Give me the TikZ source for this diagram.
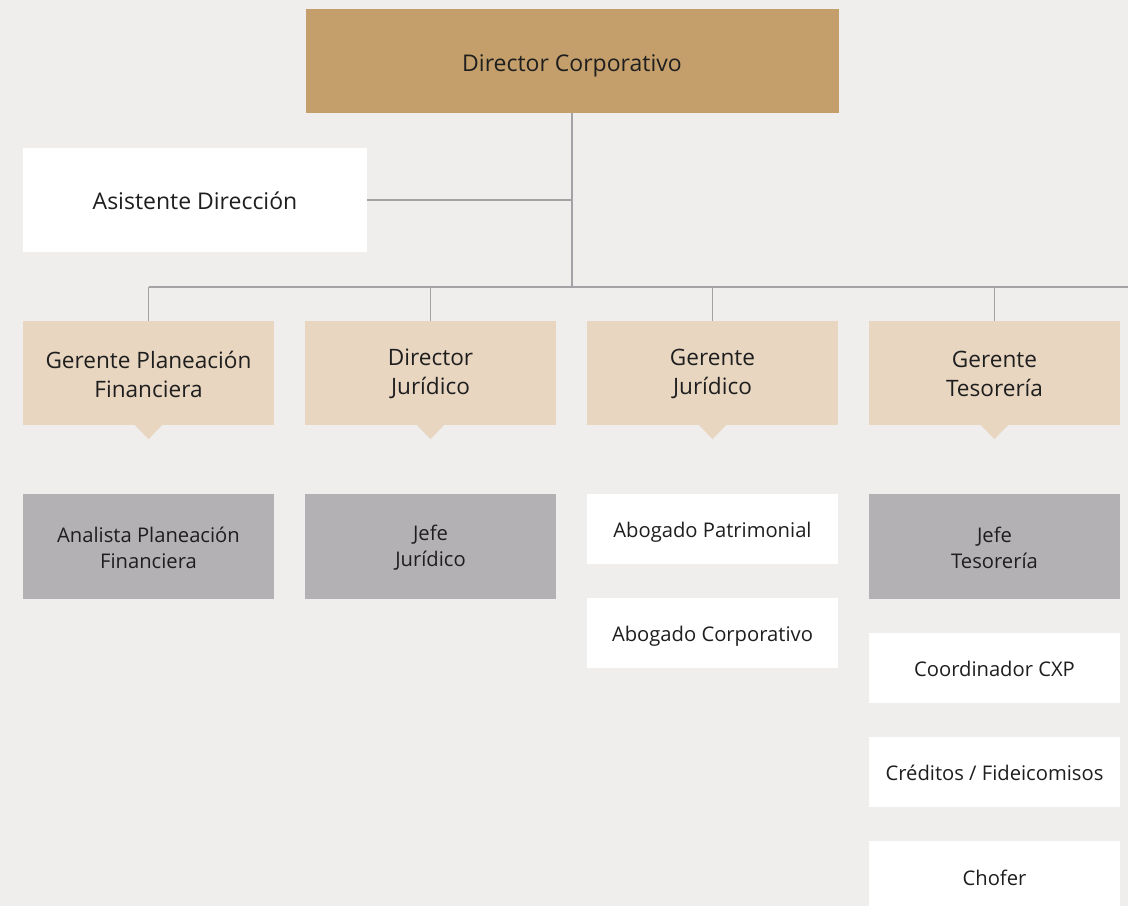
\documentclass[tikz,border=0pt]{standalone}
\usepackage{fontspec}
\setmainfont{Open Sans}
\usetikzlibrary{calc}
\definecolor{bg}{HTML}{EFEEEC}
\definecolor{topc}{HTML}{C49F6B}
\definecolor{midc}{HTML}{E8D6C1}
\definecolor{grayc}{HTML}{B4B1B4}
\definecolor{linec}{HTML}{A3A3A5}
\definecolor{txt}{HTML}{1E1E1E}
\newcommand\shiftdown[2]{\raisebox{-#1}[\height][\depth]{\parbox{250pt}{\centering #2}}}
\begin{document}
\begin{tikzpicture}[x=1pt,y=-1pt,
  box/.style={rectangle,inner sep=0pt,align=center,text=txt},
  topbox/.style={box,fill=topc,minimum width=533pt,minimum height=104pt,font=\fontsize{23}{28}\selectfont},
  whitebig/.style={box,fill=white,minimum width=344pt,minimum height=104pt,font=\fontsize{23}{28}\selectfont},
  midbox/.style={box,fill=midc,minimum width=251pt,minimum height=104pt,font=\fontsize{22.6}{29}\selectfont},
  graybox/.style={box,fill=grayc,minimum width=251pt,minimum height=105pt,font=\fontsize{20.2}{26}\selectfont},
  whitebox/.style={box,fill=white,minimum width=251pt,minimum height=70pt,font=\fontsize{20.2}{26}\selectfont},
  conn/.style={draw=linec,line width=1.4pt}]
\fill[bg] (0,0) rectangle (1128,906);
\useasboundingbox (0,0) rectangle (1128,906);
% nodes
\node[topbox] (top) at (572,61) {\shiftdown{5pt}{Director Corporativo}};
\node[whitebig] (asist) at (195,200) {\shiftdown{1pt}{Asistente Dirección}};
\node[midbox] (g1) at (148.5,373) {\shiftdown{1pt}{Gerente Planeación\\Financiera}};
\node[midbox] (g2) at (430.5,373) {\shiftdown{1pt}{Director\\Jurídico}};
\node[midbox] (g3) at (712.5,373) {\shiftdown{1pt}{Gerente\\Jurídico}};
\node[midbox] (g4) at (994.5,373) {\shiftdown{1pt}{Gerente\\Tesorería}};
\node[graybox] (a1) at (148.5,546.5) {\shiftdown{1pt}{Analista Planeación\\Financiera}};
\node[graybox] (a2) at (430.5,546.5) {\shiftdown{1pt}{Jefe\\Jurídico}};
\node[whitebox] (b1) at (712.5,528.5) {\shiftdown{4pt}{Abogado Patrimonial}};
\node[whitebox] (b2) at (712.5,632.5) {\shiftdown{4pt}{Abogado Corporativo}};
\node[graybox] (a4) at (994.5,546.5) {\shiftdown{1pt}{Jefe\\Tesorería}};
\node[whitebox] (c1) at (994.5,667.5) {\shiftdown{1.5pt}{Coordinador CXP}};
\node[whitebox] (c2) at (994.5,771.5) {\shiftdown{1.5pt}{Créditos / Fideicomisos}};
\node[whitebox] (c3) at (994.5,876) {\shiftdown{1.5pt}{Chofer}};
% pointers
\foreach \n in {g1,g2,g3,g4}{
  \fill[midc] ($(\n.south)+(-14,-0.5)$) -- ($(\n.south)+(0,14)$) -- ($(\n.south)+(14,-0.5)$) -- cycle;
}
% connectors
\coordinate (busR) at (1128,287);
\coordinate (bus) at (top.south |- busR);
\draw[conn] (top.south) -- (bus);
\draw[conn] (asist.east) -- (asist.east -| top.south);
\draw[conn] (g1.north |- bus) -- (busR);
\foreach \n in {g1,g2,g3,g4}{
  \draw[conn] (\n.north) -- (\n.north |- bus);
}
\end{tikzpicture}
\end{document}
